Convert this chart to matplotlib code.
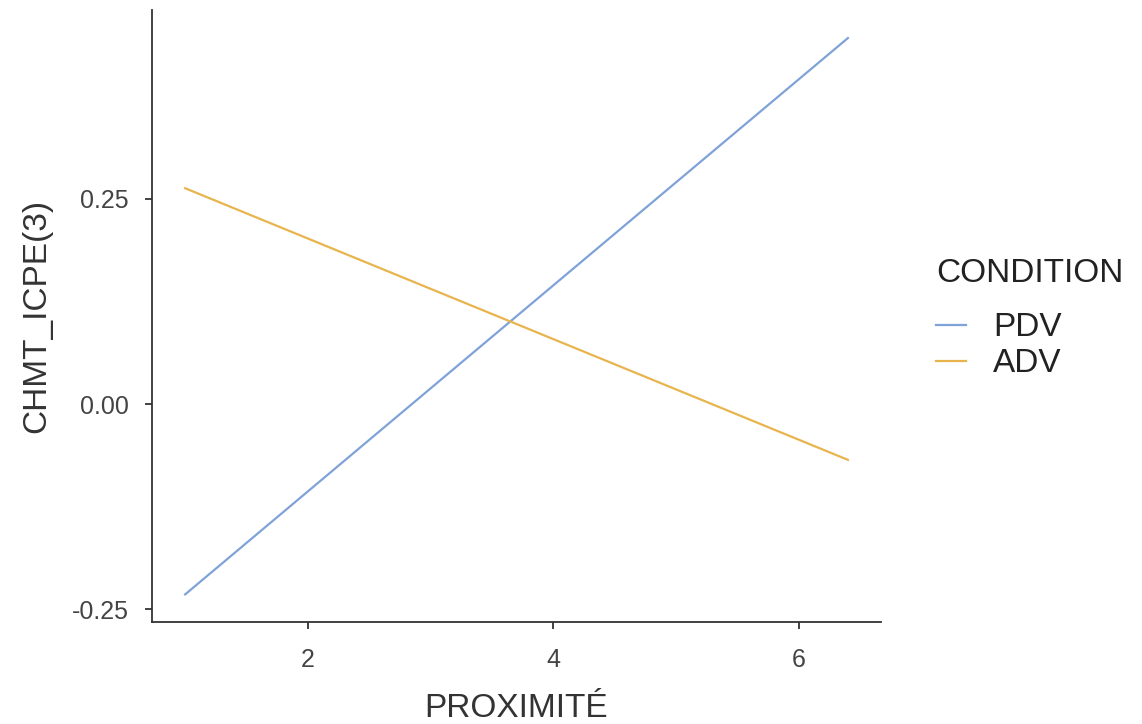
import matplotlib.pyplot as plt
from matplotlib.lines import Line2D

# data
proximite = [1.0, 6.4]
pdv = [-0.232, 0.446]
adv = [0.263, -0.068]
conditions = ['PDV', 'ADV']
colors = ['#7fa3d9', '#e8b44e']

plt.rcParams['font.family'] = ['Liberation Sans', 'DejaVu Sans']

fig = plt.figure(figsize=(11.42, 7.24), dpi=100)
ax = fig.add_axes([0.1331, 0.1409, 0.7715 - 0.1331, 0.9862 - 0.1409])

ax.plot(proximite, pdv, color=colors[0], lw=1.6)
ax.plot(proximite, adv, color=colors[1], lw=1.6)

ax.set_xlim(0.73, 6.67)
ax.set_ylim(-0.2656, 0.4802)
ax.set_xticks([2, 4, 6])
ax.set_yticks([-0.25, 0.0, 0.25])
ax.set_yticklabels(['-0.25', '0.00', '0.25'])

for s in ['top', 'right']:
    ax.spines[s].set_visible(False)
for s in ['left', 'bottom']:
    ax.spines[s].set_color('#333333')
    ax.spines[s].set_linewidth(1.3)
ax.tick_params(colors='#333333', labelcolor='#444444', labelsize=18,
               length=5, width=1.3)
ax.tick_params(axis='y', pad=12)
ax.tick_params(axis='x', pad=14)

ax.set_xlabel('PROXIMITÉ', fontsize=24, color='#333333', labelpad=15)
ax.set_ylabel('CHMT_ICPE(3)', fontsize=24, color='#333333', labelpad=14)

# legend
handles = [Line2D([0], [0], color=c, lw=1.6) for c in colors]
leg = fig.legend(handles, conditions, title='CONDITION', loc='center left',
                 bbox_to_anchor=(0.820, 0.56), frameon=False, fontsize=24,
                 title_fontsize=24, handlelength=0.9, handletextpad=0.8,
                 labelspacing=0.15, borderpad=0, borderaxespad=0)
leg._legend_box.align = 'left'
leg._legend_box.sep = 17
for t in leg.get_texts():
    t.set_color('#222222')
leg.get_title().set_color('#222222')

fig.savefig('out.png', dpi=100)
